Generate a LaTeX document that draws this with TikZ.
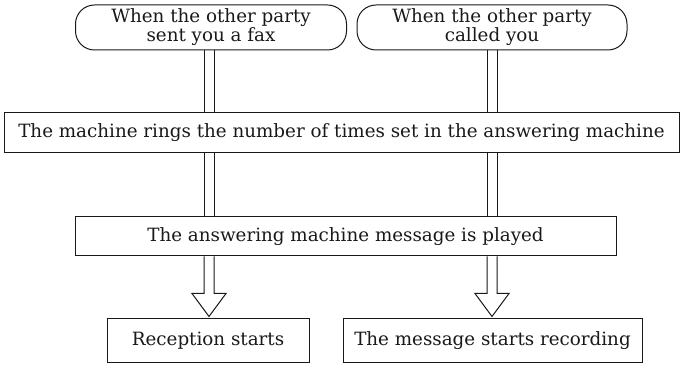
\documentclass[tikz,border=0pt]{standalone}
\usepackage{fontspec}
\setmainfont{DejaVu Serif}
\usetikzlibrary{calc}
\definecolor{ink}{gray}{0.1}
\begin{document}
\begin{tikzpicture}[x=1pt,y=-1pt,
  every node/.style={font=\fontsize{18.3}{17}\selectfont, text=ink, inner sep=0pt},
  startbox/.style={draw=ink, line width=1pt, rounded corners=19pt, align=center},
  stepbox/.style={draw=ink, line width=1pt, align=center},
  rail/.style={draw=ink, line width=1pt},
  hollow/.style={draw=ink, line width=1pt, fill=white, line join=miter}]
\useasboundingbox (0,0) rectangle (681,374);
\coordinate (cL) at (209,0);
\coordinate (cR) at (492,0);
\coordinate (cLa) at (204,0);
\coordinate (cLb) at (214,0);
\coordinate (cRa) at (487,0);
\coordinate (cRb) at (497,0);
\node[startbox, minimum width=271pt, minimum height=45pt] (t1) at (211,27.5) {When the other party\\sent you a fax};
\node[startbox, minimum width=270pt, minimum height=45pt] (t2) at (492,27.5) {When the other party\\called you};
\node[stepbox, minimum width=675pt, minimum height=40pt] (m1) at (341.5,133) {The machine rings the number of times set in the answering machine};
\node[stepbox, minimum width=541pt, minimum height=39pt] (m2) at (345.5,236.5) {The answering machine message is played};
\node[stepbox, minimum width=202pt, minimum height=44pt] (b1) at (208,341) {Reception starts};
\node[stepbox, minimum width=299pt, minimum height=44pt] (b2) at (492.5,341) {The message starts recording};
\foreach \c in {cLa,cLb}{
  \draw[rail] (t1.south -| \c) -- (m1.north -| \c);
  \draw[rail] (m1.south -| \c) -- (m2.north -| \c);
}
\foreach \c in {cRa,cRb}{
  \draw[rail] (t2.south -| \c) -- (m1.north -| \c);
  \draw[rail] (m1.south -| \c) -- (m2.north -| \c);
}
\draw[hollow] (m2.south -| cLa) -- ++(0,37) -- ++(-12,0) -- ($(b1.north -| cL)+(0,-2)$) -- ($(m2.south -| cLb)+(12,37)$) -- ++(-12,0) -- (m2.south -| cLb);
\draw[hollow] (m2.south -| cRa) -- ++(0,37) -- ++(-12,0) -- ($(b2.north -| cR)+(0,-2)$) -- ($(m2.south -| cRb)+(12,37)$) -- ++(-12,0) -- (m2.south -| cRb);
\end{tikzpicture}
\end{document}
